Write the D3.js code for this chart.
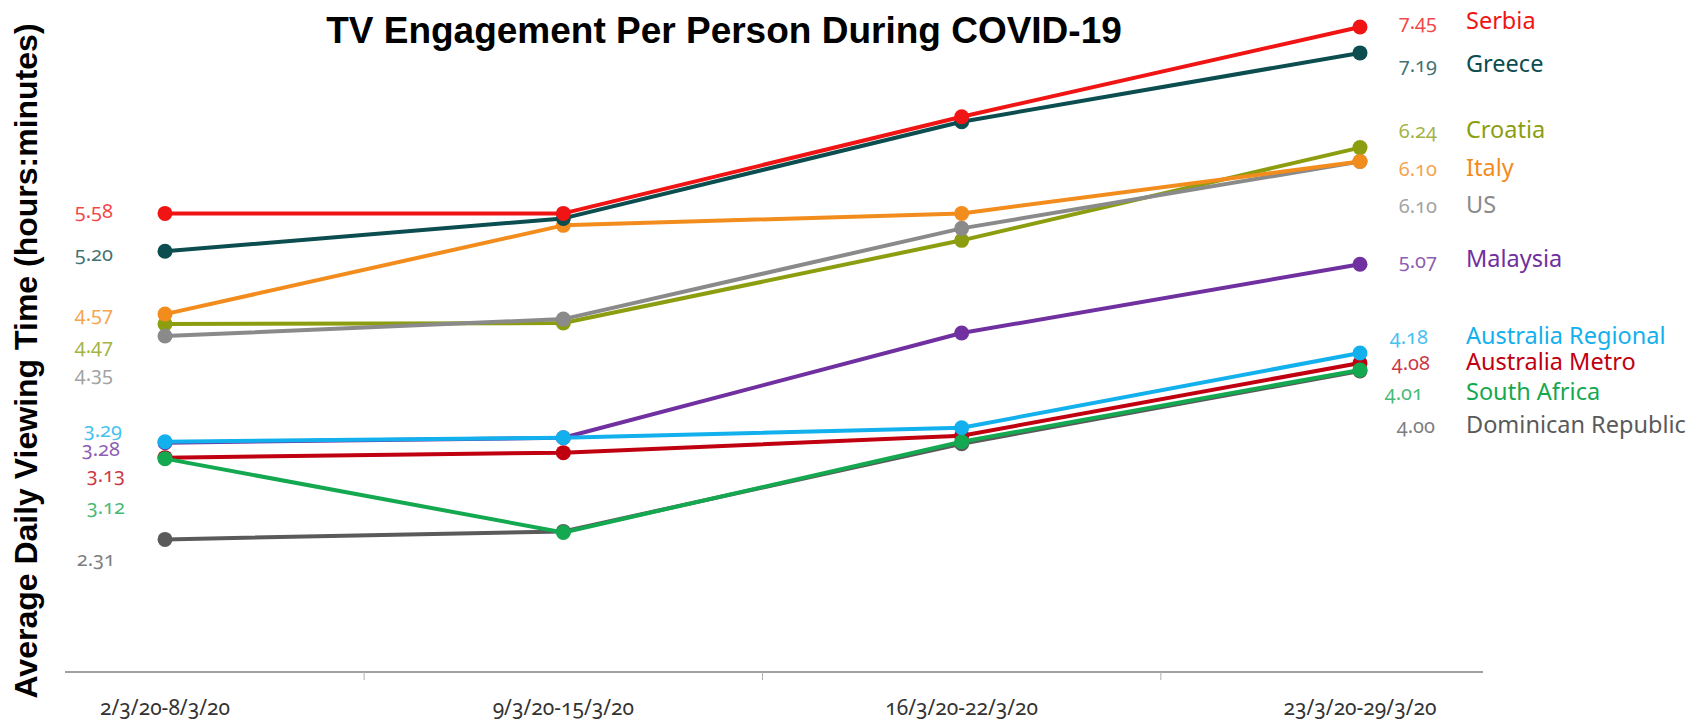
<!DOCTYPE html>
<html>
<head>
<meta charset="utf-8">
<script src="https://cdn.jsdelivr.net/npm/d3@7"></script>
<style>
	html, body { margin: 0; padding: 0; background: #fff; }
	svg { display: block; }
	.num { font-family: 'Noto Sans', 'Open Sans', sans-serif; font-feature-settings: 'onum' 1; }
</style>
</head>
<body>
<div class="slope-chart"></div>
<script>
// periods (x categories) and the countries, top to bottom in the legend
var periods = ['2/3/20-8/3/20', '9/3/20-15/3/20', '16/3/20-22/3/20', '23/3/20-29/3/20'];
var countries = ['Serbia', 'Greece', 'Croatia', 'Italy', 'US', 'Malaysia',
	'Australia Regional', 'Australia Metro', 'South Africa', 'Dominican Republic'];

// weekly viewing time, hours.minutes, plotted as decimals like the original
var serbia = [5.58, 5.58, 6.55, 7.45];
var greece = [5.20, 5.53, 6.50, 7.19];
var croatia = [4.47, 4.48, 5.31, 6.24];
var italy = [4.57, 5.46, 5.58, 6.10];
var us = [4.35, 4.52, 5.43, 6.10];
var malaysia = [3.28, 3.33, 4.38, 5.07];
var ausRegional = [3.29, 3.33, 3.43, 4.18];
var ausMetro = [3.13, 3.18, 3.35, 4.08];
var southAfrica = [3.12, 2.38, 3.29, 4.01];
var dominican = [2.31, 2.39, 3.27, 4.00];

// first and last value labels as printed
var startLabels = ['5.58', '5.20', '4.47', '4.57', '4.35', '3.28', '3.29', '3.13', '3.12', '2.31'];
var endLabels = ['7.45', '7.19', '6.24', '6.10', '6.10', '5.07', '4.18', '4.08', '4.01', '4.00'];

var colors = ['#f01414', '#0c4d4f', '#8c9e10', '#f28c1c', '#8a8a8a', '#7030a0',
	'#12b0ec', '#c00010', '#14a850', '#5a5a5a'];

var series = [serbia, greece, croatia, italy, us, malaysia, ausRegional, ausMetro, southAfrica, dominican];

var W = 1698, H = 722;
var x = d3.scalePoint().domain(periods).range([165, 1360]);
var y = d3.scaleLinear().domain([1, 7.5]).range([670, 22]);

// hand placed label nudges so the numbers don't collide (px)
var leftDy = [-3, 2, 21, -1, 37, 6, -12, 17, 48, 19];
var leftDx = [0, 0, 0, 0, 0, 7, 9, 12, 12, 2];
var rightDy = [-5, 12, -17, 7, 44, -4, -16, 0, 23, 55];
var rightDx = [0, 0, 0, 0, 0, 0, -9, -7, -14, -2];

var svg = d3.select('.slope-chart').append('svg')
	.attr('width', W)
	.attr('height', H);

// x axis: plain grey line, ticks between the weeks
var axisY = 672;
svg.append('line')
	.attr('x1', 65).attr('x2', 1483)
	.attr('y1', axisY).attr('y2', axisY)
	.attr('stroke', '#a0a0a0')
	.attr('stroke-width', 2);
for (var i = 0; i < periods.length - 1; i++) {
	var mx = (x(periods[i]) + x(periods[i + 1])) / 2;
	svg.append('line')
		.attr('x1', mx).attr('x2', mx)
		.attr('y1', axisY).attr('y2', axisY + 8)
		.attr('stroke', '#b0b0b0')
		.attr('stroke-width', 1);
}
svg.selectAll('.xlabel')
	.data(periods)
	.enter().append('text')
	.attr('class', 'num')
	.attr('x', function(d) { return x(d); })
	.attr('y', 707)
	.attr('text-anchor', 'middle')
	.attr('dominant-baseline', 'central')
	.attr('font-size', '21px')
	.attr('fill', '#333')
	.text(function(d) { return d; });

// draw order so the overlaps look like the original
var drawOrder = [9, 5, 7, 8, 6, 2, 4, 3, 1, 0];
var line = d3.line()
	.x(function(d, i) { return x(periods[i]); })
	.y(function(d) { return y(d); });

drawOrder.forEach(function(k) {
	var g = svg.append('g');
	g.append('path')
		.datum(series[k])
		.attr('d', line)
		.attr('fill', 'none')
		.attr('stroke', colors[k])
		.attr('stroke-width', 4)
		.attr('stroke-linejoin', 'round');
	g.selectAll('circle')
		.data(series[k])
		.enter().append('circle')
		.attr('cx', function(d, i) { return x(periods[i]); })
		.attr('cy', function(d) { return y(d); })
		.attr('r', 7.5)
		.attr('fill', colors[k]);
});

// value labels on both sides and the country names
countries.forEach(function(name, k) {
	var vals = series[k];
	svg.append('text')
		.attr('class', 'num')
		.attr('x', 113 + leftDx[k])
		.attr('y', y(vals[0]) + leftDy[k])
		.attr('text-anchor', 'end')
		.attr('dominant-baseline', 'central')
		.attr('font-size', '20px')
		.attr('fill', colors[k])
		.attr('fill-opacity', 0.8)
		.text(startLabels[k]);
	var ry = y(vals[vals.length - 1]) + rightDy[k];
	svg.append('text')
		.attr('class', 'num')
		.attr('x', 1437 + rightDx[k])
		.attr('y', ry)
		.attr('text-anchor', 'end')
		.attr('dominant-baseline', 'central')
		.attr('font-size', '20px')
		.attr('fill', colors[k])
		.attr('fill-opacity', 0.8)
		.text(endLabels[k]);
	svg.append('text')
		.attr('x', 1466)
		.attr('y', ry - 2)
		.attr('dominant-baseline', 'central')
		.attr('font-family', "'Noto Sans', 'Open Sans', sans-serif")
		.attr('font-size', '23.5px')
		.attr('fill', colors[k])
		.text(name);
});

// title and y axis label
svg.append('text')
	.attr('x', 724)
	.attr('y', 30)
	.attr('text-anchor', 'middle')
	.attr('dominant-baseline', 'central')
	.attr('font-family', "'Liberation Sans', Arial, sans-serif")
	.attr('font-weight', 'bold')
	.attr('font-size', '37px')
	.attr('fill', '#000')
	.text('TV Engagement Per Person During COVID-19');

svg.append('text')
	.attr('transform', 'translate(26,361) rotate(-90)')
	.attr('text-anchor', 'middle')
	.attr('dominant-baseline', 'central')
	.attr('font-family', "'Liberation Sans', Arial, sans-serif")
	.attr('font-weight', 'bold')
	.attr('font-size', '32px')
	.attr('fill', '#000')
	.text('Average Daily Viewing Time (hours:minutes)');
</script>
</body>
</html>
